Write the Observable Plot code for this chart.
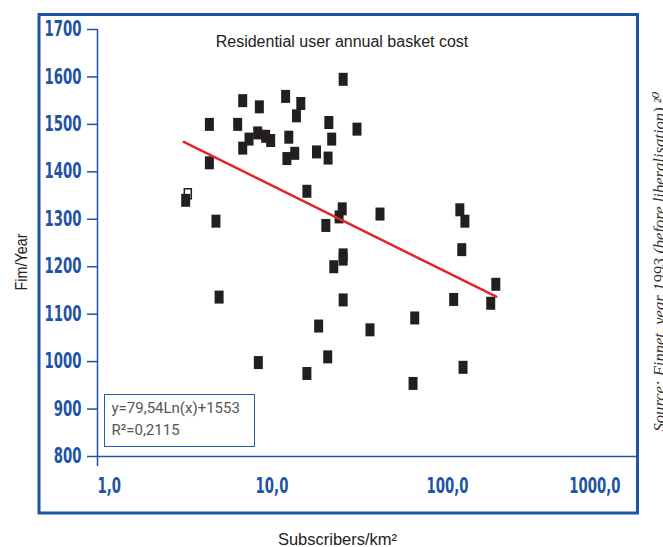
<!DOCTYPE html>
<html>
<head>
<meta charset="utf-8">
<script src="https://cdn.jsdelivr.net/npm/d3@7"></script>
<script src="https://cdn.jsdelivr.net/npm/@observablehq/plot@0.6"></script>
<style>
  html, body { margin: 0; padding: 0; background: #fff; overflow: hidden; width: 663px; height: 547px; }
  #wrap { position: relative; width: 663px; height: 547px; }
  #eq { position: absolute; left: 104px; top: 394px; width: 151px; height: 53px; box-sizing: border-box;
        border: 1.5px solid #2a5bab; font-family: Roboto, "Liberation Sans", sans-serif; font-size: 15px;
        color: #555; padding: 2px 0 0 6.5px; line-height: 22px; background: #fff; }
</style>
</head>
<body>
<div id="wrap"><div id="chart"></div><div id="eq"></div></div>
<script>
// ---- data ----
const subscribers = [25.1, 11.8, 14.4, 6.72, 8.36, 4.34, 6.29, 30.1, 13.6, 20.8,
                     8.18, 7.30, 9.08, 9.70, 12.3, 21.6, 6.72, 13.3, 12.0, 17.7,
                     20.6, 4.34, 15.6, 3.18, 24.8, 23.8, 20.0, 40.7, 4.73, 116,
                     124, 119, 25.1, 25.1, 22.2, 4.93, 186, 25.1, 107, 174,
                     64.2, 18.2, 35.7, 8.25, 20.5, 15.6, 121, 62.8];
const cost = [1595, 1559, 1544, 1550, 1537, 1500, 1500, 1490, 1518, 1504,
              1482, 1469, 1475, 1466, 1473, 1469, 1450, 1439, 1428, 1442,
              1429, 1419, 1359, 1340, 1322, 1305, 1287, 1311, 1296, 1320,
              1296, 1236, 1225, 1216, 1200, 1136, 1163, 1130, 1131, 1123,
              1092, 1075, 1067, 998, 1010, 975, 988, 954];
const hollowSubscribers = [3.27];
const hollowCost = [1354];
const trendSubscribers = [3.1, 187];
const trendCost = [1463, 1137];

const yTicks = [800, 900, 1000, 1100, 1200, 1300, 1400, 1500, 1600, 1700];
const xTicks = [1, 10, 100, 1000];
const xTickLabels = ["1,0", "10,0", "100,0", "1000,0"];

const titleText = "Residential user annual basket cost";
const xLabelText = "Subscribers/km\u00B2";
const yLabelText = "Fim/Year";
const sourceText = "Source: Finnet, year 1993 (before liberalisation) \u00B2\u2070";
const eqLines = ["y=79,54Ln(x)+1553", "R\u00B2=0,2115"];

// ---- build ----
const BLUE = "#1f54a4";
const INK = "#231f20";
const NARROW = "'Liberation Sans Narrow', 'Arial Narrow', 'DejaVu Sans Condensed', 'DejaVu Sans', sans-serif";
const SANS = "'Liberation Sans', Arial, sans-serif";

const points = subscribers.map((x, i) => ({x, y: cost[i]}));
const hollow = hollowSubscribers.map((x, i) => ({x, y: hollowCost[i]}));
const trend = trendSubscribers.map((x, i) => ({x, y: trendCost[i]}));
const xt = xTicks.map((v, i) => ({v, label: xTickLabels[i]}));

const bar = {draw(ctx) { ctx.moveTo(-4.5, -6.5); ctx.lineTo(4.5, -6.5); ctx.lineTo(4.5, 6.5); ctx.lineTo(-4.5, 6.5); ctx.closePath(); }};
const barSmall = {draw(ctx) { ctx.moveTo(-3.5, -5); ctx.lineTo(3.5, -5); ctx.lineTo(3.5, 5); ctx.lineTo(-3.5, 5); ctx.closePath(); }};

const tickText = {y: () => 800, text: "label", lineAnchor: "bottom", dy: 36, fontSize: 20.5, fill: BLUE,
                  fontWeight: "bold", fontFamily: NARROW};

const chart = Plot.plot({
  width: 663,
  height: 547,
  marginLeft: 97,
  marginRight: 27,
  marginTop: 29,
  marginBottom: 91,
  style: {fontFamily: SANS, background: "white"},
  x: {type: "log", domain: [1, 1178], axis: null},
  y: {domain: [800, 1700], axis: null},
  marks: [
    Plot.frame({stroke: BLUE, strokeWidth: 3, insetLeft: -58.5, insetTop: -15, insetRight: -1, insetBottom: -56.5}),
    Plot.ruleY([800], {stroke: BLUE, strokeWidth: 1.5}),
    Plot.ruleX([1], {y1: 1700, y2: 779, stroke: BLUE, strokeWidth: 1.5}),
    Plot.axisY({ticks: yTicks, tickSize: 10, tickPadding: 6, fontSize: 20.5, color: BLUE, strokeWidth: 1.5,
                tickFormat: d => String(d), label: null, fontFamily: NARROW, fontWeight: "bold"}),
    Plot.text(xt.slice(0, 1), {...tickText, x: "v", textAnchor: "start", dx: 0}),
    Plot.text(xt.slice(1, 3), {...tickText, x: "v", textAnchor: "middle", dx: -1}),
    Plot.text(xt.slice(3), {...tickText, x: "v", textAnchor: "end", dx: -3.5}),
    Plot.dot(hollow, {x: "x", y: "y", symbol: barSmall, fill: "white", stroke: INK, strokeWidth: 1.5}),
    Plot.dot(points, {x: "x", y: "y", symbol: bar, fill: INK, stroke: null}),
    Plot.line(trend, {x: "x", y: "y", stroke: "#e3242b", strokeWidth: 2.5}),
    Plot.text([titleText], {frameAnchor: "top", textAnchor: "middle", dx: -25, dy: 17, lineAnchor: "bottom", fontSize: 16, fill: "#222"}),
    Plot.text([xLabelText], {frameAnchor: "bottom", textAnchor: "middle", dx: -29.5, dy: 88, lineAnchor: "bottom", fontSize: 16.5, fill: "#222"}),
    Plot.text([yLabelText], {frameAnchor: "left", textAnchor: "middle", rotate: -90, dx: -71, dy: 19, lineAnchor: "bottom", fontSize: 16.5, fill: "#222"}),
    Plot.text([sourceText], {frameAnchor: "bottom-right", rotate: -90, textAnchor: "start", lineAnchor: "bottom", dx: 28, dy: -25, fontSize: 16.6, fill: "#333", fontStyle: "italic", fontFamily: "'Liberation Serif', 'DejaVu Serif', serif"})
  ]
});
document.getElementById("chart").appendChild(chart);

// condensed look for the blue tick labels: scale all by the ratio that makes "1700" 37px wide
const tickStrings = new Set([...yTicks.map(String), ...xTickLabels]);
const tickEls = [...chart.querySelectorAll("text")].filter(el => tickStrings.has(el.textContent));
const ref = tickEls.find(el => el.textContent === "1700");
const k = ref ? 37 / ref.getComputedTextLength() : 1;
tickEls.forEach(el => {
  const w = el.getComputedTextLength();
  el.setAttribute("textLength", (w * k).toFixed(2));
  el.setAttribute("lengthAdjust", "spacingAndGlyphs");
});
[...chart.querySelectorAll("text")].filter(el => el.textContent === yLabelText).forEach(el => {
  el.setAttribute("textLength", "57");
  el.setAttribute("lengthAdjust", "spacingAndGlyphs");
});

const eq = document.getElementById("eq");
eqLines.forEach(t => { const d = document.createElement("div"); d.textContent = t; eq.appendChild(d); });
</script>
</body>
</html>
